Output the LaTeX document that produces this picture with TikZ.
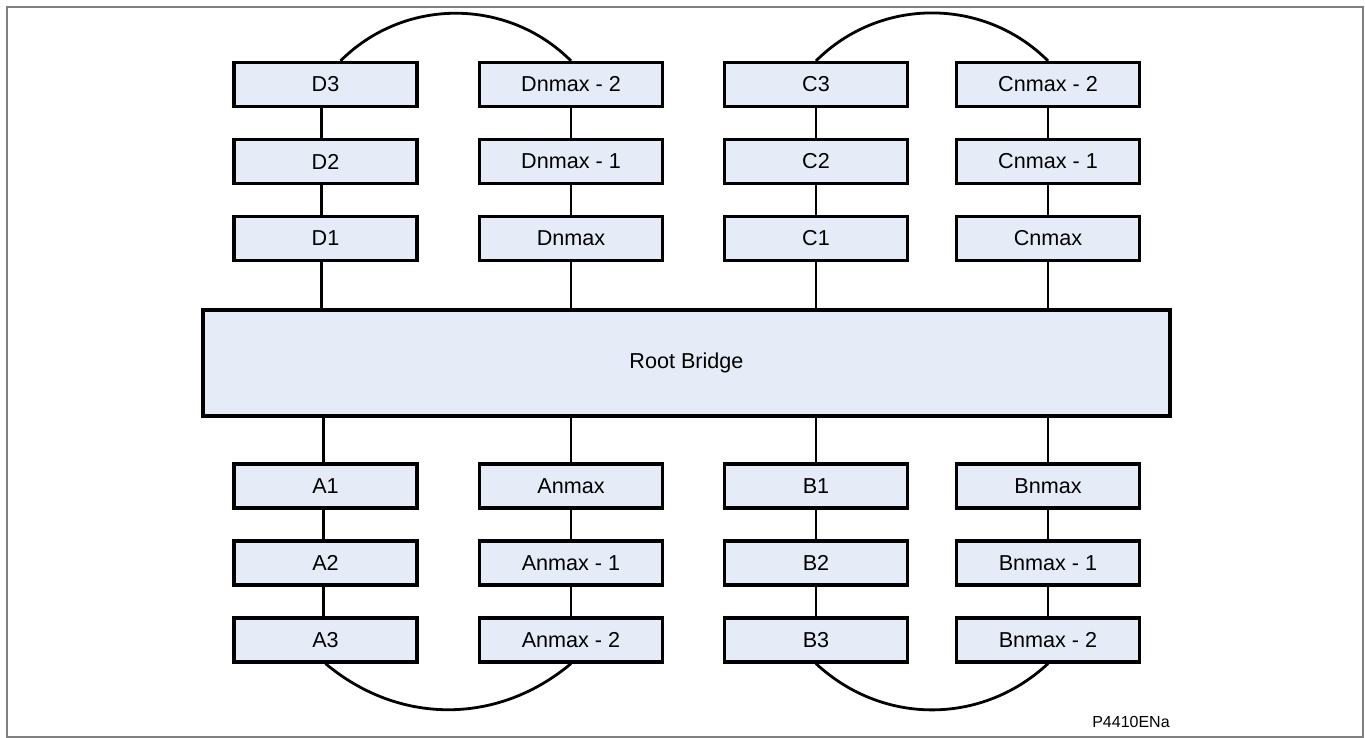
\documentclass[tikz,border=0pt]{standalone}
\usepackage{fontspec}
\setmainfont{Liberation Sans}
\usetikzlibrary{positioning}
\definecolor{bridgeFill}{HTML}{E6ECF7}
\definecolor{frameGray}{HTML}{808080}
\tikzset{
  link/.style={line width=1.4pt, black},
  boxB/.style={rectangle, draw=black, line width=1.6pt, fill=bridgeFill,
               minimum width=91.5pt, minimum height=22pt, inner sep=0pt,
               font=\fontsize{10.8}{13}\selectfont},
  boxRoot/.style={boxB, minimum width=483.5pt, minimum height=53pt},
}
\begin{document}
\begin{tikzpicture}[x=0.5pt, y=-0.5pt, node distance=14.9pt]
  \useasboundingbox (0,0) rectangle (1365,738);
  \draw[frameGray, line width=0.75pt] (7,7) rectangle (1363,737);

  \node[boxRoot] (root) at (686.5,363) {Root Bridge};

  % upper rings
  \node[boxB] (D1) at (325.5,238.5) {D1};
  \node[boxB, above=of D1] (D2) {D2};
  \node[boxB, above=of D2] (D3) {D3};
  \node[boxB] (Dn) at (571,238.5) {Dnmax};
  \node[boxB, above=of Dn] (Dn1) {Dnmax - 1};
  \node[boxB, above=of Dn1] (Dn2) {Dnmax - 2};
  \node[boxB] (C1) at (816,238.5) {C1};
  \node[boxB, above=of C1] (C2) {C2};
  \node[boxB, above=of C2] (C3) {C3};
  \node[boxB] (Cn) at (1048,238.5) {Cnmax};
  \node[boxB, above=of Cn] (Cn1) {Cnmax - 1};
  \node[boxB, above=of Cn1] (Cn2) {Cnmax - 2};

  % lower rings
  \node[boxB] (A1) at (325.5,486) {A1};
  \node[boxB, below=of A1] (A2) {A2};
  \node[boxB, below=of A2] (A3) {A3};
  \node[boxB] (An) at (571,486) {Anmax};
  \node[boxB, below=of An] (An1) {Anmax - 1};
  \node[boxB, below=of An1] (An2) {Anmax - 2};
  \node[boxB] (B1) at (816,486) {B1};
  \node[boxB, below=of B1] (B2) {B2};
  \node[boxB, below=of B2] (B3) {B3};
  \node[boxB] (Bn) at (1048,486) {Bnmax};
  \node[boxB, below=of Bn] (Bn1) {Bnmax - 1};
  \node[boxB, below=of Bn1] (Bn2) {Bnmax - 2};

  \draw[link] ([xshift=-2pt]D1.south) -- ([xshift=-2pt]D1.south |- root.north);
  \draw[link] (Dn.south) -- (Dn.south |- root.north);
  \draw[link] (C1.south) -- (C1.south |- root.north);
  \draw[link] (Cn.south) -- (Cn.south |- root.north);
  \draw[link] ([xshift=-1pt]A1.north) -- ([xshift=-1pt]A1.north |- root.south);
  \draw[link] (An.north) -- (An.north |- root.south);
  \draw[link] (B1.north) -- (B1.north |- root.south);
  \draw[link] (Bn.north) -- (Bn.north |- root.south);

  \draw[link] ([xshift=-2pt]D1.north) -- ([xshift=-2pt]D2.south);
  \draw[link] ([xshift=-2pt]D2.north) -- ([xshift=-2pt]D3.south);
  \draw[link] (Dn) -- (Dn1); \draw[link] (Dn1) -- (Dn2);
  \draw[link] (C1) -- (C2); \draw[link] (C2) -- (C3);
  \draw[link] (Cn) -- (Cn1); \draw[link] (Cn1) -- (Cn2);
  \draw[link] ([xshift=-1pt]A1.south) -- ([xshift=-1pt]A2.north);
  \draw[link] ([xshift=-1pt]A2.south) -- ([xshift=-1pt]A3.north);
  \draw[link] (An) -- (An1); \draw[link] (An1) -- (An2);
  \draw[link] (B1) -- (B2); \draw[link] (B2) -- (B3);
  \draw[link] (Bn) -- (Bn1); \draw[link] (Bn1) -- (Bn2);

  % ring closures
  \draw[link] ([xshift=7.5pt]D3.north) to[out=45, in=135] (Dn2.north);
  \draw[link] (C3.north) to[out=45, in=135] (Cn2.north);
  \draw[link] (A3.south) to[out=-40, in=-140] (An2.south);
  \draw[link] (B3.south) to[out=-43, in=-137] (Bn2.south);

  \node[font=\fontsize{8}{10}\selectfont] (tag) at (1131,722) {P4410ENa};
\end{tikzpicture}
\end{document}
